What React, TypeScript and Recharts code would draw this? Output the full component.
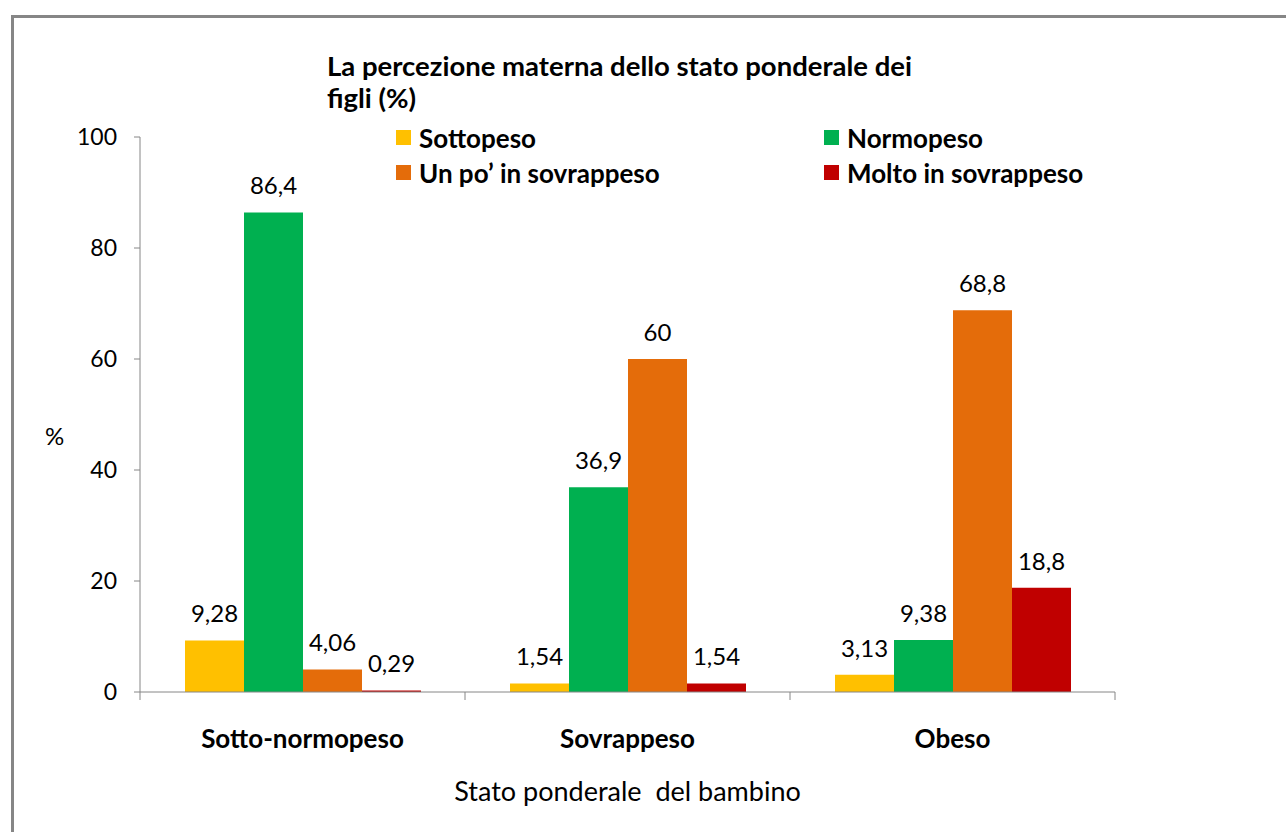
import { BarChart, Bar, XAxis, YAxis, Legend, LabelList } from "recharts";

const categories = ["Sotto-normopeso", "Sovrappeso", "Obeso"];
const sottopeso = [9.28, 1.54, 3.13];
const normopeso = [86.4, 36.9, 9.38];
const unPo = [4.06, 60, 68.8];
const molto = [0.29, 1.54, 18.8];
const yTicks = [0, 20, 40, 60, 80, 100];

const series = [
  { key: "sottopeso", name: "Sottopeso", color: "#FFC000" },
  { key: "normopeso", name: "Normopeso", color: "#00B050" },
  { key: "unPo", name: "Un po\u2019 in sovrappeso", color: "#E46C0A" },
  { key: "molto", name: "Molto in sovrappeso", color: "#C00000" },
];

const data = categories.map((c, i) => ({
  cat: c,
  sottopeso: sottopeso[i],
  normopeso: normopeso[i],
  unPo: unPo[i],
  molto: molto[i],
}));

const font = "Lato, 'Open Sans', sans-serif";
const axisColor = "#868686";

const fmt = (v: any) => String(v).replace(".", ",");

// category label plus tick marks on the band edges (Excel style)
function CatTick(props: any) {
  const { x, y, payload, index, visibleTicksCount } = props;
  const half = payload && payload.offset ? payload.offset : 162.5;
  const last = index === (visibleTicksCount ?? categories.length) - 1;
  const axisY = y - 37;
  return (
    <g>
      <line x1={x - half} x2={x - half} y1={axisY} y2={axisY + 8} stroke={axisColor} />
      {last && <line x1={x + half} x2={x + half} y1={axisY} y2={axisY + 8} stroke={axisColor} />}
      <text x={x} y={y} dy={19} textAnchor="middle" fill="#000" fontSize={26} fontWeight={700} fontFamily={font}>
        {payload.value}
      </text>
    </g>
  );
}

function LegendBox() {
  return (
    <div
      style={{
        display: "grid",
        gridTemplateColumns: "428px 280px",
        rowGap: 10,
        fontFamily: font,
        fontWeight: 700,
        fontSize: 26,
        color: "#000",
      }}
    >
      {series.map((s) => (
        <div key={s.key} style={{ display: "flex", alignItems: "center", height: 25, whiteSpace: "nowrap" }}>
          <span style={{ width: 15, height: 15, background: s.color, marginRight: 8, flex: "none" }} />
          {s.name}
        </div>
      ))}
    </div>
  );
}

export default function App() {
  return (
    <div style={{ position: "absolute", left: 0, top: 0, width: 1286, height: 832, background: "#fff", overflow: "hidden" }}>
      <div
        style={{
          position: "absolute",
          left: 11,
          top: 15,
          width: 1300,
          height: 840,
          border: "3px solid #868686",
          boxSizing: "border-box",
        }}
      />
      <div
        style={{
          position: "absolute",
          left: 327,
          top: 50,
          width: 620,
          fontFamily: font,
          fontWeight: 700,
          fontSize: 27.5,
          lineHeight: "32px",
          color: "#000",
        }}
      >
        La percezione materna dello stato ponderale dei figli (%)
      </div>
      <BarChart
        width={1286}
        height={832}
        data={data}
        margin={{ top: 137, right: 171, left: 80, bottom: 20 }}
        barGap={0}
        barSize={59}
        style={{ position: "absolute", left: 0, top: 0, fontFamily: font }}
      >
        <XAxis
          dataKey="cat"
          height={60}
          axisLine={{ stroke: axisColor }}
          tickLine={false}
          tick={<CatTick />}
          tickMargin={31}
          label={{
            value: "Stato ponderale\u00a0\u00a0del bambino",
            position: "insideBottom",
            offset: -49,
            fill: "#000",
            fontSize: 27,
            fontWeight: 400,
          }}
        />
        <YAxis
          width={60}
          domain={[0, 100]}
          ticks={yTicks}
          axisLine={{ stroke: axisColor }}
          tickLine={{ stroke: axisColor }}
          tickSize={6}
          tickMargin={17}
          tick={{ fill: "#000", fontSize: 23 }}
          label={{
            content: () => (
              <text x={45} y={445} fontSize={24} fill="#000" fontFamily={font}>
                %
              </text>
            ),
          }}
        />
        <Legend
          content={() => <LegendBox />}
          wrapperStyle={{ position: "absolute", left: 396, top: 125, width: 720 }}
        />
        {series.map((s) => (
          <Bar key={s.key} dataKey={s.key} name={s.name} fill={s.color} isAnimationActive={false}>
            <LabelList dataKey={s.key} position="top" offset={18} formatter={fmt} fill="#000" fontSize={24} />
          </Bar>
        ))}
      </BarChart>
    </div>
  );
}
